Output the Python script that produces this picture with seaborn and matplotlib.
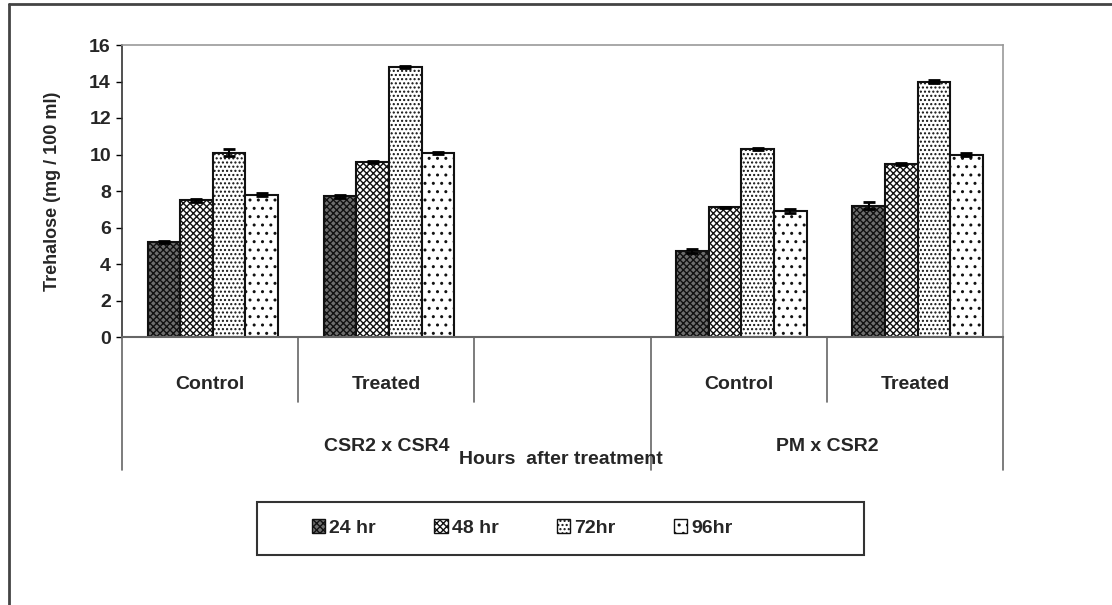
import matplotlib
matplotlib.use("Agg")
import matplotlib.pyplot as plt
import seaborn as sns
import pandas as pd
import numpy as np
from matplotlib.patches import Rectangle
from matplotlib.lines import Line2D

# ---- data ----
crosses = ["CSR2 x CSR4", "PM x CSR2"]
treatments = ["Control", "Treated"]
hours = ["24 hr", "48 hr", "72hr", "96hr"]
slot_keys = ["CSR2 x CSR4|Control", "CSR2 x CSR4|Treated", "gap",
             "PM x CSR2|Control", "PM x CSR2|Treated"]
slot_labels = ["Control", "Treated", "", "Control", "Treated"]

csr4_control = [5.2, 7.5, 10.1, 7.8]
csr4_treated = [7.7, 9.6, 14.8, 10.1]
pm_control = [4.7, 7.1, 10.3, 6.9]
pm_treated = [7.2, 9.5, 14.0, 10.0]

csr4_control_err = [0.05, 0.08, 0.2, 0.1]
csr4_treated_err = [0.1, 0.05, 0.05, 0.05]
pm_control_err = [0.1, 0.05, 0.05, 0.1]
pm_treated_err = [0.2, 0.05, 0.1, 0.08]

series = {
    "CSR2 x CSR4|Control": (csr4_control, csr4_control_err),
    "CSR2 x CSR4|Treated": (csr4_treated, csr4_treated_err),
    "PM x CSR2|Control": (pm_control, pm_control_err),
    "PM x CSR2|Treated": (pm_treated, pm_treated_err),
}

rows = []
for key, (vals, errs) in series.items():
    for h, v, e in zip(hours, vals, errs):
        rows.append({"slot": key, "hour": h, "value": v, "err": e})
df = pd.DataFrame(rows)

# ---- style ----
sns.set_theme(style="white")
plt.rcParams["font.family"] = ["Liberation Sans", "DejaVu Sans"]
plt.rcParams["font.weight"] = "bold"
plt.rcParams["hatch.linewidth"] = 1.0

fig = plt.figure(figsize=(11.12, 6.05), dpi=100)
fig.patch.set_facecolor("white")
W, H = 1112, 605
ax = fig.add_axes([122 / W, 1 - 337 / H, (1003 - 122) / W, (337 - 45) / H])

faces = ["#6e6e6e", "white", "white", "white"]
hatches = ["xxxxx", "xxxxx", "....", ".."]
pal = dict(zip(hours, faces))

sns.barplot(data=df, x="slot", y="value", hue="hour", order=slot_keys,
            hue_order=hours, palette=pal, width=0.74, errorbar=None,
            edgecolor="black", linewidth=1.5, saturation=1, ax=ax, legend=False)

for cont, hat, fc in zip(ax.containers, hatches, faces):
    for bar in cont:
        bar.set_hatch(hat)
        bar.set_edgecolor("#111111")
        bar.set_facecolor(fc)
        bar.set_x(bar.get_x() + 0.015)

# error bars at bar centres
for cont, h in zip(ax.containers, hours):
    for bar in cont:
        if not np.isfinite(bar.get_height()) or bar.get_height() == 0:
            continue
        cx = bar.get_x() + bar.get_width() / 2
        val = bar.get_height()
        m = df[(df["hour"] == h) & (np.isclose(df["value"], val))]
        e = m["err"].iloc[0] if len(m) else 0.05
        ax.errorbar(cx, val, yerr=e, color="black", capsize=4, lw=1.5, capthick=2,
                    zorder=5)

ax.set_xlim(-0.5, 4.5)
ax.set_ylim(0, 16)
ax.set_yticks(range(0, 17, 2))
ax.tick_params(axis="y", length=4, width=1, color="black", labelsize=14, pad=4,
               left=True)
for t in ax.get_yticklabels():
    t.set_fontweight("bold")
ax.set_xticks(range(5))
ax.set_xticklabels(slot_labels, fontsize=14, fontweight="bold")
ax.tick_params(axis="x", length=0, pad=28)
ax.set_xlabel("")
ax.set_ylabel("Trehalose (mg / 100 ml)", fontsize=13, fontweight="bold", labelpad=20)

for s in ["top", "right"]:
    ax.spines[s].set_color("#999999")
    ax.spines[s].set_linewidth(1.2)
ax.spines["left"].set_color("#333333")
ax.spines["left"].set_linewidth(1.2)
ax.spines["bottom"].set_color("#666666")
ax.spines["bottom"].set_linewidth(1.5)

# category dividers
tr = ax.get_xaxis_transform()
for xb in [0.5, 1.5, 3.5]:
    ax.plot([xb, xb], [0, -0.2226], transform=tr, color="#666666", lw=1.2, clip_on=False)
for xb in [-0.5, 2.5, 4.5]:
    ax.plot([xb, xb], [0, -0.455], transform=tr, color="#666666", lw=1.2, clip_on=False)

# group labels
ax.text(1.0, -0.375, crosses[0], transform=tr, ha="center", va="center",
        fontsize=14, fontweight="bold")
ax.text(3.5, -0.375, crosses[1], transform=tr, ha="center", va="center",
        fontsize=14, fontweight="bold")
fig.text(561 / W, 1 - 460 / H, "Hours  after treatment", ha="center", va="center",
         fontsize=14, fontweight="bold")

# legend
handles = [Rectangle((0, 0), 1, 1, facecolor=fc, edgecolor="#111111", hatch=hat, lw=1)
           for fc, hat in zip(faces, hatches)]
leg = fig.legend(handles, hours, loc="center", bbox_to_anchor=(522 / W, 1 - 528 / H),
                 ncol=4, frameon=False, handlelength=0.7, handleheight=0.7,
                 handletextpad=0.2, columnspacing=3.0,
                 prop={"size": 14, "weight": "bold"})
fig.add_artist(Rectangle((257 / W, 1 - 555 / H), (864 - 257) / W, 53 / H,
                         transform=fig.transFigure, fill=False,
                         edgecolor="#333333", lw=1.5))

# outer frame (left and top edges visible)
fig.add_artist(Line2D([9 / W, 9 / W], [0, 1 - 4 / H], transform=fig.transFigure,
                      color="#444444", lw=2))
fig.add_artist(Line2D([9 / W, 1], [1 - 4 / H, 1 - 4 / H], transform=fig.transFigure,
                      color="#444444", lw=2))

fig.savefig("out.png", dpi=100, facecolor="white")
